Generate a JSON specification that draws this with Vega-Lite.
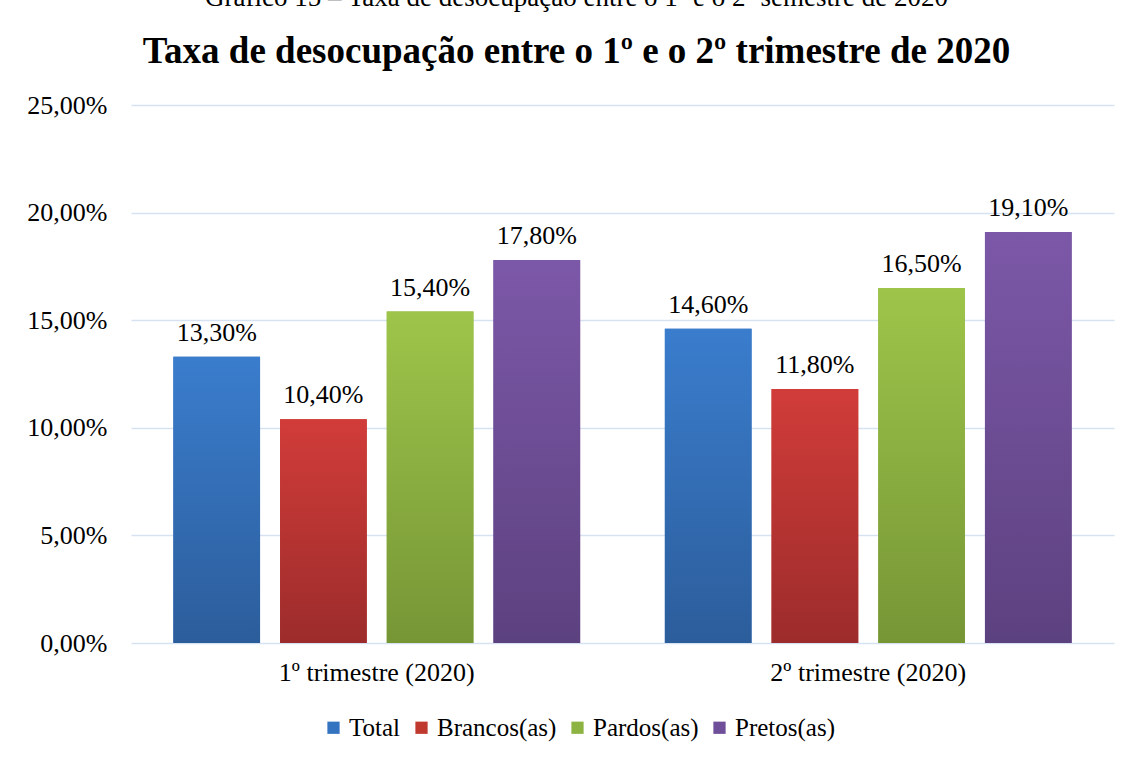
{
  "$schema": "https://vega.github.io/schema/vega-lite/v6.json",
  "width": 983,
  "height": 538,
  "autosize": {"type": "none"},
  "padding": {"left": 131, "top": 105, "right": 26, "bottom": 115},
  "background": "white",
  "config": {
    "locale": {"number": {"decimal": ",", "thousands": ".", "grouping": [3], "currency": ["R$", ""]}},
    "font": "Liberation Serif",
    "view": {"stroke": null}
  },
  "title": {
    "text": "Gráfico 15 – Taxa de desocupação entre o 1º e o 2º semestre de 2020",
    "subtitle": "Taxa de desocupação entre o 1º e o 2º trimestre de 2020",
    "font": "Liberation Serif",
    "fontSize": 27,
    "fontWeight": "normal",
    "color": "#000000",
    "subtitleFont": "Liberation Serif",
    "subtitleFontSize": 37,
    "subtitleFontWeight": "bold",
    "subtitleColor": "#000000",
    "subtitlePadding": 22,
    "anchor": "middle",
    "dx": -46,
    "offset": 21
  },
  "data": {
    "values": [
      {"trimestre": "1º trimestre (2020)", "grupo": "Total", "taxa": 0.133},
      {"trimestre": "1º trimestre (2020)", "grupo": "Brancos(as)", "taxa": 0.104},
      {"trimestre": "1º trimestre (2020)", "grupo": "Pardos(as)", "taxa": 0.154},
      {"trimestre": "1º trimestre (2020)", "grupo": "Pretos(as)", "taxa": 0.178},
      {"trimestre": "2º trimestre (2020)", "grupo": "Total", "taxa": 0.146},
      {"trimestre": "2º trimestre (2020)", "grupo": "Brancos(as)", "taxa": 0.118},
      {"trimestre": "2º trimestre (2020)", "grupo": "Pardos(as)", "taxa": 0.165},
      {"trimestre": "2º trimestre (2020)", "grupo": "Pretos(as)", "taxa": 0.191}
    ]
  },
  "encoding": {
    "x": {
      "field": "trimestre",
      "type": "nominal",
      "scale": {"paddingInner": 0, "paddingOuter": 0},
      "axis": {
        "title": null,
        "labelAngle": 0,
        "labelFont": "Liberation Serif",
        "labelFontSize": 26,
        "labelLimit": 0,
        "labelColor": "#000000",
        "labelPadding": 16,
        "ticks": false,
        "domain": false
      }
    },
    "xOffset": {
      "field": "grupo",
      "type": "nominal",
      "sort": ["Total", "Brancos(as)", "Pardos(as)", "Pretos(as)"],
      "scale": {"paddingInner": 0.1875, "paddingOuter": 0.397}
    },
    "y": {
      "field": "taxa",
      "type": "quantitative",
      "scale": {"domain": [0, 0.25]},
      "axis": {
        "title": null,
        "format": ".2%",
        "values": [0, 0.05, 0.1, 0.15, 0.2, 0.25],
        "labelFont": "Liberation Serif",
        "labelFontSize": 26,
        "labelColor": "#000000",
        "labelPadding": 24,
        "ticks": false,
        "domain": false,
        "gridColor": "#d6e1f2",
        "gridWidth": 1.6
      }
    }
  },
  "layer": [
    {
      "mark": {"type": "bar"},
      "encoding": {
        "color": {
          "field": "grupo",
          "type": "nominal",
          "sort": ["Total", "Brancos(as)", "Pardos(as)", "Pretos(as)"],
          "scale": {
            "domain": ["Total", "Brancos(as)", "Pardos(as)", "Pretos(as)"],
            "range": ["#3473c0", "#c0392f", "#8db443", "#6f4f9a"]
          },
          "legend": {
            "title": null,
            "orient": "none",
            "direction": "horizontal",
            "legendX": 190,
            "legendY": 610,
            "symbolType": "square",
            "symbolSize": 150,
            "symbolStrokeWidth": 0,
            "labelFont": "Liberation Serif",
            "labelFontSize": 25,
            "labelColor": "#000000",
            "labelOffset": 3,
            "columnPadding": 8
          }
        }
      }
    },
    {
      "transform": [{"filter": "datum.grupo === 'Total'"}],
      "mark": {
        "type": "bar",
        "fill": {"gradient": "linear", "x1": 0, "y1": 0, "x2": 0, "y2": 1,
          "stops": [{"offset": 0, "color": "#3a7dcd"}, {"offset": 1, "color": "#2c5d9b"}]}
      }
    },
    {
      "transform": [{"filter": "datum.grupo === 'Brancos(as)'"}],
      "mark": {
        "type": "bar",
        "fill": {"gradient": "linear", "x1": 0, "y1": 0, "x2": 0, "y2": 1,
          "stops": [{"offset": 0, "color": "#d13c39"}, {"offset": 1, "color": "#9c2c2b"}]}
      }
    },
    {
      "transform": [{"filter": "datum.grupo === 'Pardos(as)'"}],
      "mark": {
        "type": "bar",
        "fill": {"gradient": "linear", "x1": 0, "y1": 0, "x2": 0, "y2": 1,
          "stops": [{"offset": 0, "color": "#9ec54a"}, {"offset": 1, "color": "#769636"}]}
      }
    },
    {
      "transform": [{"filter": "datum.grupo === 'Pretos(as)'"}],
      "mark": {
        "type": "bar",
        "fill": {"gradient": "linear", "x1": 0, "y1": 0, "x2": 0, "y2": 1,
          "stops": [{"offset": 0, "color": "#7c58a8"}, {"offset": 1, "color": "#5c417f"}]}
      }
    },
    {
      "mark": {
        "type": "text",
        "baseline": "alphabetic",
        "dy": -16,
        "font": "Liberation Serif",
        "fontSize": 26,
        "color": "#000000"
      },
      "encoding": {
        "text": {"field": "taxa", "type": "quantitative", "format": ".2%"}
      }
    }
  ]
}
